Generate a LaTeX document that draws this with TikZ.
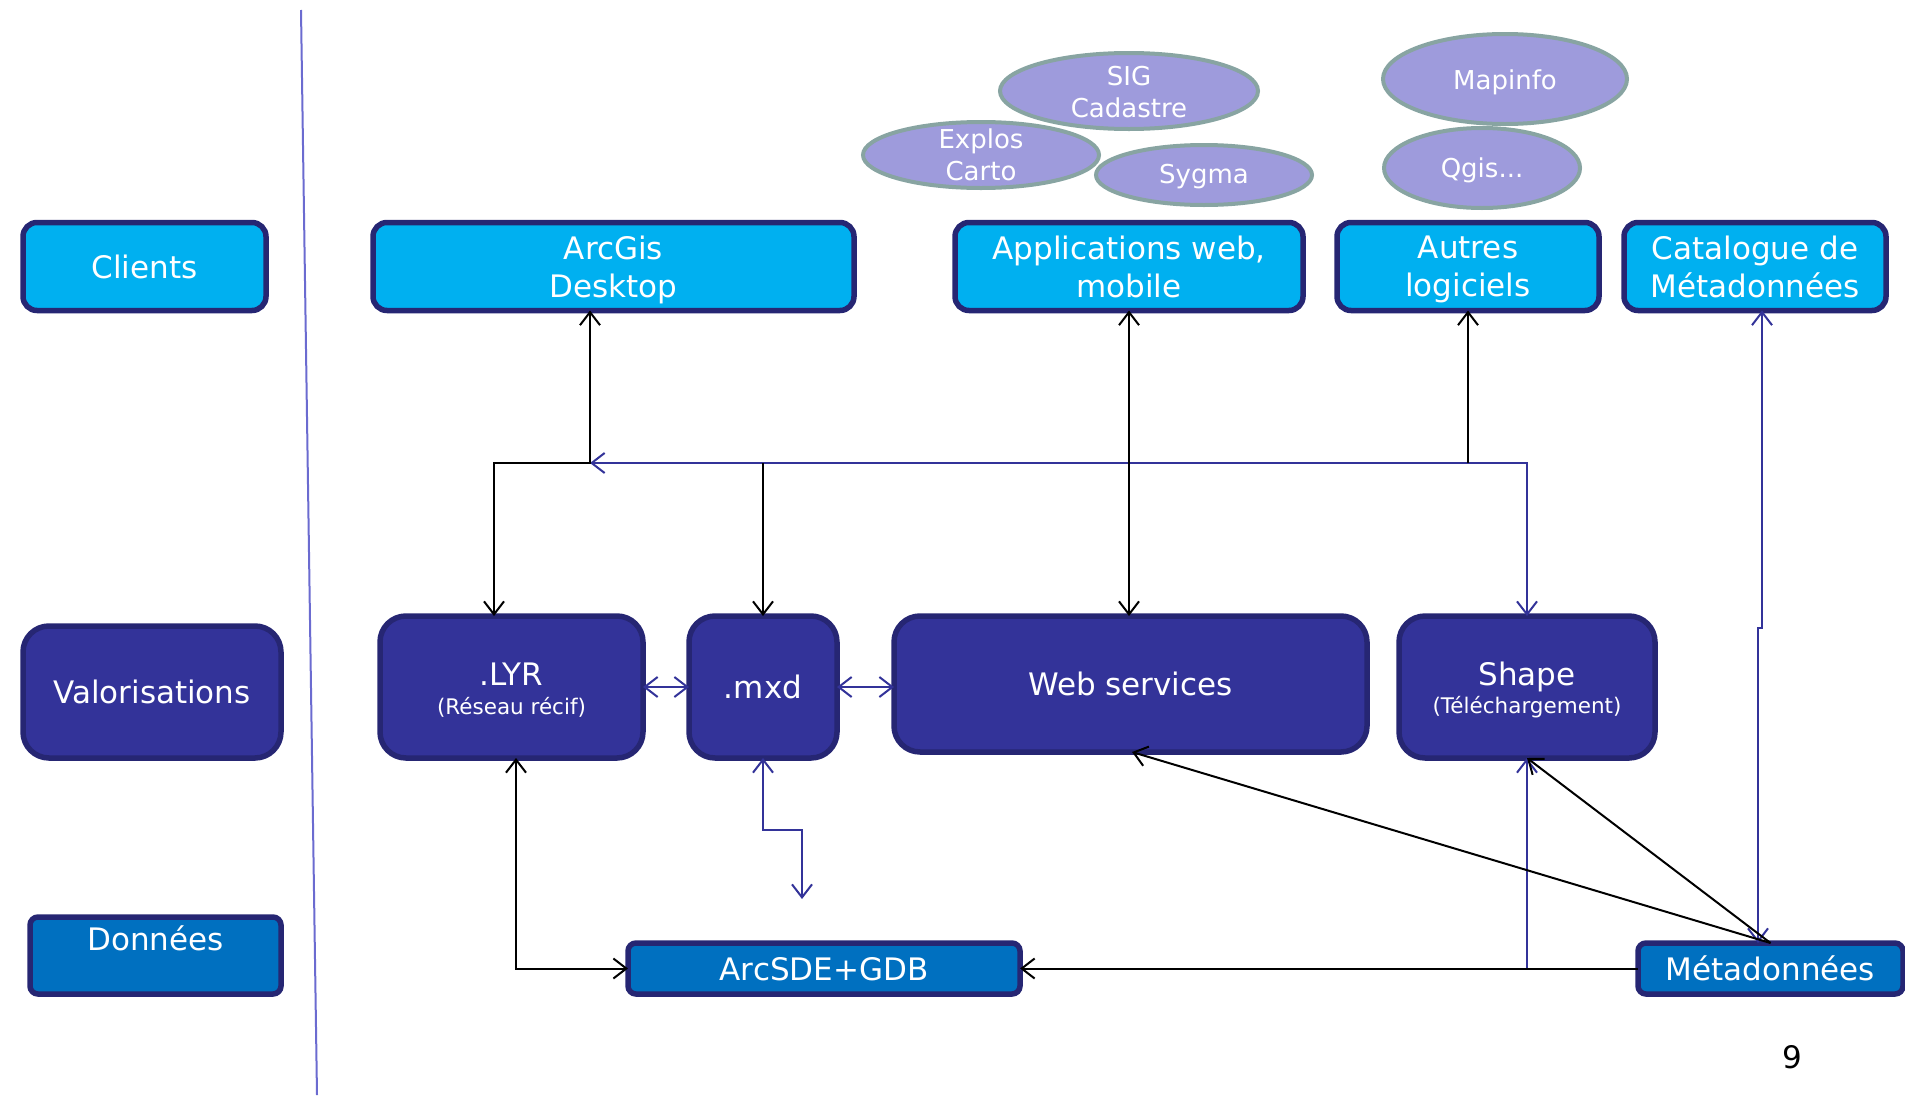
\documentclass[tikz,border=0pt]{standalone}
\usepackage{fontspec}
\setmainfont{DejaVu Sans}
\usetikzlibrary{shapes.geometric,arrows.meta}
\definecolor{cyanfill}{HTML}{00B0F0}
\definecolor{navyedge}{HTML}{262673}
\definecolor{valfill}{HTML}{333399}
\definecolor{datafill}{HTML}{0070C0}
\definecolor{ellfill}{HTML}{9E9BDC}
\definecolor{elledge}{HTML}{88A4A2}
\definecolor{linkblue}{HTML}{333399}
\definecolor{sepline}{HTML}{6B6BD0}
\begin{document}
\begin{tikzpicture}[x=1pt,y=-1pt,
  box/.style={draw=navyedge,line width=5.5pt,text=white,align=center,inner sep=0pt,outer sep=0pt,text depth=0pt,font=\fontsize{31}{38}\selectfont},
  client/.style={box,fill=cyanfill,rounded corners=14pt},
  valo/.style={box,fill=valfill,rounded corners=26pt},
  data/.style={box,fill=datafill,rounded corners=8pt},
  bubble/.style={ellipse,fill=ellfill,draw=elledge,line width=4pt,inner sep=0pt,outer sep=0pt},
  btext/.style={text=white,align=center,font=\fontsize{26}{32}\selectfont},
  big/.style={text=white,font=\fontsize{31}{38}\selectfont},
  sub/.style={text=white,font=\fontsize{21.5}{25}\selectfont},
  barb/.tip={Straight Barb[length=13pt,width=20pt]},
  blk/.style={draw=black,line width=2pt},
  blu/.style={draw=linkblue,line width=2pt}]
\useasboundingbox (0,0) rectangle (1905,1095);

% separator
\coordinate (septop) at (301,10);
\coordinate (sepbot) at (317,1095);
\draw[sepline,line width=2pt] (septop) -- (sepbot);

% ellipses
\node[bubble,minimum width=258pt,minimum height=76pt,label={[btext,yshift=-1pt]center:SIG\\Cadastre}] (sig) at (1129,91) {};
\node[bubble,minimum width=236pt,minimum height=66pt,label={[btext]center:Explos\\Carto}] (explos) at (981,155) {};
\node[bubble,minimum width=216pt,minimum height=60pt,label={[btext,yshift=-2pt]center:Sygma}] (sygma) at (1204,175) {};
\node[bubble,minimum width=244pt,minimum height=90pt,label={[btext,yshift=-3pt]center:Mapinfo}] (mapinfo) at (1505,79) {};
\node[bubble,minimum width=196pt,minimum height=80pt,label={[btext,yshift=-2pt]center:Qgis...}] (qgis) at (1482,168) {};

% row labels
\node[client,minimum width=243pt,minimum height=88pt] (clients) at (144.5,266.5) {Clients};
\node[valo,minimum width=258pt,minimum height=132pt] (valor) at (152,692) {Valorisations};
\node[data,minimum width=251pt,minimum height=77pt,label={[big,yshift=17pt]center:Données}] (donnees) at (155.5,955.5) {};

% clients
\node[client,minimum width=481pt,minimum height=88pt] (arcgis) at (613.5,266.5) {ArcGis\\Desktop};
\node[client,minimum width=348pt,minimum height=88pt] (apps) at (1129,266.5) {Applications web,\\mobile};
\node[client,minimum width=262pt,minimum height=88pt] (autres) at (1468,266.5) {Autres\\logiciels};
\node[client,minimum width=262pt,minimum height=88pt] (catalogue) at (1755,266.5) {Catalogue de\\Métadonnées};

% valorisations
\node[valo,minimum width=263pt,minimum height=142pt,
  label={[big,yshift=13pt]center:.LYR},label={[sub,yshift=-20pt]center:(Réseau récif)}] (lyr) at (511.5,687) {};
\node[valo,minimum width=148pt,minimum height=142pt] (mxd) at (763,687) {.mxd};
\node[valo,minimum width=473pt,minimum height=136pt] (web) at (1130.5,684) {Web services};
\node[valo,minimum width=256pt,minimum height=142pt,
  label={[big,yshift=10.5pt]center:Shape},label={[sub,yshift=-20pt]center:(Téléchargement)}] (shape) at (1527,687) {};

% données
\node[data,minimum width=392pt,minimum height=51pt] (arcsde) at (824,968.5) {ArcSDE+GDB};
\node[data,minimum width=265pt,minimum height=51pt] (meta) at (1770.5,968.5) {Métadonnées};

% page number
\node[font=\fontsize{31}{38}\selectfont] (pnum) at (1792,1057) {9};

% junctions
\coordinate (jl) at (494,463);
\coordinate (ja) at (590,463);
\coordinate (jm) at (763,463);
\coordinate (jo) at (1468,463);
\coordinate (mxdend) at (802,899);
\coordinate (cj1) at (1762,628);
\coordinate (cj2) at (1758,628);

% blue connectors
\draw[blu,{barb}-{barb}] (shape.north) |- (ja);
\draw[blu,{barb}-{barb}] (lyr.east) -- (mxd.west);
\draw[blu,{barb}-{barb}] (mxd.east) -- (mxd.east -| web.west);
\draw[blu,{barb}-{barb}] (mxd.south) -- ++(0,72) -| (mxdend);
\draw[blu,-{barb}] (arcsde.east) -| (shape.south);
\draw[blu,{barb}-{barb}] (catalogue.south -| cj1) -- (cj1) -- (cj2) -- (meta.north -| cj2);

% black connectors
\draw[blk,{barb}-{barb}] (lyr.north -| jl) |- (ja) -- (arcgis.south -| ja);
\draw[blk,-{barb}] (jm) -- (mxd.north);
\draw[blk,{barb}-{barb}] (apps.south) -- (web.north -| apps.south);
\draw[blk,-{barb}] (jo) -- (autres.south);
\draw[blk,{barb}-{barb}] ([xshift=4.5pt]lyr.south) |- (arcsde.west);
\draw[blk,-{barb}] (meta.west) -- (arcsde.east);
\draw[blk,-{barb}] (meta.north) -- ([xshift=1.5pt]web.south);
\draw[blk,-{barb}] (meta.north) -- (shape.south);
\end{tikzpicture}
\end{document}
